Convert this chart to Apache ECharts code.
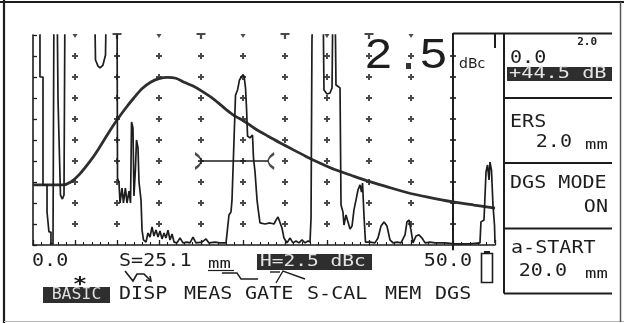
<!DOCTYPE html>
<html>
<head>
<meta charset="utf-8">
<script src="https://cdn.jsdelivr.net/npm/echarts@6/dist/echarts.min.js"></script>
<style>
  html, body { margin: 0; padding: 0; background: #ffffff; }
  #screen { width: 624px; height: 323px; }
</style>
</head>
<body>
<div id="screen"></div>
<script>
// ---- A-scan range and graticule (mm / % screen height) ----
const rangeMax = 55;
const gridColumns = [5, 10, 15, 20, 25, 30, 35, 40, 45, 50];
const gridRows = [10, 20, 30, 40, 50, 60, 70, 80, 90];
const topMarksT = [10, 20, 30, 40];
const topMarksSmall = [5, 15, 25, 35, 45];
const axisLabelValues = [0, 50];
const axisLabelTexts = ['0.0', '50.0'];

// ---- echo trace (mm, % FSH); 120 = driven past the top of the screen ----
const echoTrace = [
  [0, 120], [0.83, 120], [0.83, 80.0], [1.19, 80.0], [1.19, 28.6], [1.67, 28.6],
  [1.67, 15.7], [1.90, 15.7], [1.90, 6.2], [2.14, 6.2], [2.14, 0.5], [2.38, 0.5],
  [2.5, 120], [2.86, 120], [2.98, 69.0], [3.15, 69.0], [3.27, 23.8], [3.5, 21.9],
  [3.69, 23.8], [3.81, 120], [7.32, 120], [7.44, 88.1], [7.74, 85.2], [7.98, 84.3],
  [8.33, 85.7], [8.63, 90.5], [8.75, 120], [10.0, 120], [10.06, 31.9], [10.24, 29.5],
  [10.36, 20.0], [10.6, 27.1], [10.77, 20.0], [11.0, 27.1], [11.19, 20.0], [11.43, 25.7],
  [11.61, 20.0], [11.73, 58.6], [11.9, 55.7], [12.02, 23.3], [12.2, 36.7], [12.32, 50.0],
  [12.5, 46.2], [12.62, 30.0], [12.86, 21.4], [12.98, 7.1], [13.15, 2.4], [13.45, 1.4],
  [13.69, 5.7], [13.93, 3.8], [14.17, 8.6], [14.4, 4.3], [14.64, 7.1], [14.88, 3.8],
  [15.12, 6.7], [15.36, 2.9], [15.6, 5.7], [15.83, 3.3], [16.07, 7.1], [16.31, 2.4],
  [16.55, 5.2], [16.79, 1.4], [17.14, 1.0], [17.5, 3.3], [17.86, 1.0], [18.33, 1.4],
  [18.69, 1.0], [19.05, 3.8], [19.4, 1.0], [20.1, 1.4], [20.6, 2.9], [20.95, 1.0],
  [21.67, 1.4], [22.26, 1.0], [22.98, 1.0],
  // flaw echo in the gate
  [23.21, 1.4], [23.33, 14.3], [23.57, 15.7], [23.69, 21.4], [23.93, 50.0], [24.11, 71.4],
  [24.35, 73.8], [24.58, 78.6], [24.88, 80.5], [25.12, 80.5], [25.3, 74.8], [25.42, 65.2],
  [25.54, 51.9], [25.83, 51.0], [26.13, 52.4], [26.25, 41.4], [26.43, 34.8], [26.67, 21.4],
  [26.85, 15.7], [27.02, 10.5], [27.62, 10.0], [28.21, 10.5], [28.69, 10.0], [28.93, 11.9],
  [29.17, 13.3], [29.4, 12.4], [29.64, 8.1], [29.88, 3.3], [30.24, 1.0], [30.6, 3.3],
  [30.95, 1.0], [31.31, 1.9], [31.67, 1.0], [32.02, 2.4], [32.38, 1.0], [32.74, 1.9],
  // large reflector
  [32.98, 1.4], [33.1, 12.9], [33.21, 97.6], [33.39, 120], [34.52, 120], [34.64, 73.8],
  [35.0, 71.9], [35.36, 72.4], [35.6, 74.8], [35.71, 120], [35.95, 120], [36.07, 76.2],
  [36.55, 74.8], [36.67, 19.0], [36.9, 15.7], [37.02, 9.5], [37.26, 14.3], [37.5, 11.0],
  [37.74, 7.6], [37.98, 9.0], [38.21, 16.7], [38.45, 21.4], [38.69, 26.2], [38.93, 28.6],
  [39.11, 25.2], [39.23, 29.5], [39.4, 14.3], [39.58, 1.4], [40.12, 1.4], [40.71, 1.0],
  [41.07, 3.3], [41.43, 9.0], [41.79, 11.0], [42.14, 9.0], [42.5, 2.4], [42.86, 1.0],
  [43.33, 1.4], [43.81, 1.0], [44.29, 4.8], [44.52, 11.0], [44.76, 11.9], [45.0, 7.1],
  [45.24, 1.0], [45.6, 4.3], [45.95, 4.8], [46.31, 3.3], [46.67, 1.0], [47.26, 1.4],
  [47.86, 1.0], [49.05, 1.0], [50.24, 0.5], [52.02, 0.5], [53.21, 1.0], [53.33, 11.0],
  [53.69, 11.9], [53.93, 34.8], [54.11, 38.1], [54.29, 31.0], [54.4, 39.5], [54.58, 35.7],
  [54.76, 19.0], [54.94, 9.5], [55.0, 1.0]
];

// ---- DGS reference curve (mm, % FSH) ----
const dgsCurve = [
  [0, 28.6], [3.5, 28.6], [4.5, 30.0], [5.5, 33.5], [7, 41.0], [8, 47.0], [9, 53.5],
  [10, 59.5], [11, 65.0], [12, 70.0], [13, 74.5], [14, 77.5], [15, 79.2], [16, 79.8],
  [17, 79.4], [18, 77.5], [19, 75.8], [20, 73.5], [21.5, 69.5], [23, 64.5], [24, 61.5],
  [25, 59.3], [26.4, 55.5], [28, 51.8], [29.5, 48.5], [31, 45.3], [32.5, 42.2], [34, 39.3],
  [36, 35.8], [38, 33.0], [40, 30.3], [42, 27.9], [44.5, 25.0], [47, 22.8], [50, 20.5],
  [52.5, 19.0], [55, 17.6]
];

// ---- gate (a-START, end, threshold) ----
const gateStart = 20.0;
const gateEnd = 28.0;
const gateLevel = 40;

// ---- readouts ----
const bigReading = ['2', '5'];
const panelTexts = ['0.0', '+44.5 dB', 'ERS', '2.0', 'DGS MODE', 'ON', 'a-START', '20.0'];
const menuItems = ['BASIC', 'DISP', 'MEAS', 'GATE', 'S-CAL', 'MEM', 'DGS'];

const INK = '#1d1d1d';
const MONO = '"DejaVu Sans Mono", monospace';

const crossPts = [];
gridColumns.forEach(c => gridRows.forEach(r => crossPts.push([c, r])));

const chart = echarts.init(document.getElementById('screen'), null, { renderer: 'canvas' });

chart.setOption({
  animation: false,
  backgroundColor: '#ffffff',
  grid: { left: 33, top: 35, width: 462, height: 210, containLabel: false, outerBoundsMode: 'none' },
  xAxis: {
    type: 'value', min: 0, max: rangeMax, interval: 5,
    axisLine: { show: true, lineStyle: { color: INK, width: 1.6 } },
    axisTick: { show: true, inside: true, length: 5, lineStyle: { color: INK, width: 1.3 } },
    minorTick: { show: true, splitNumber: 5, length: 3, lineStyle: { color: INK, width: 1.1 } },
    axisLabel: { show: false },
    splitLine: { show: false }
  },
  yAxis: {
    type: 'value', min: 0, max: 100, interval: 10,
    axisLine: { show: true, lineStyle: { color: INK, width: 1.6 } },
    axisTick: { show: true, inside: true, length: 4, lineStyle: { color: INK, width: 1.3 } },
    axisLabel: { show: false },
    splitLine: { show: false }
  },
  series: [
    { // graticule crosses
      type: 'scatter', silent: true, data: crossPts,
      symbol: 'path://M2,0H4V2H6V4H4V6H2V4H0V2H2Z', symbolSize: 6,
      itemStyle: { color: INK }
    },
    { // top "T" marks
      type: 'scatter', silent: true, data: topMarksT.map(c => [c, 100]),
      symbol: 'path://M0,0H8V2H5V6H3V2H0Z', symbolSize: [9, 6], symbolOffset: [0, 1],
      itemStyle: { color: INK }
    },
    { // top small marks
      type: 'scatter', silent: true, data: topMarksSmall.map(c => [c, 100]),
      symbol: 'path://M0,0H5L2.5,4Z', symbolSize: [5, 4], symbolOffset: [0, 1],
      itemStyle: { color: INK }
    },
    { // 50 mm ruler
      type: 'line', silent: true, clip: false, symbol: 'none',
      data: [[50, -2.5], [50, 101]],
      lineStyle: { color: INK, width: 2 }
    },
    { // DGS curve
      type: 'line', silent: true, symbol: 'none', smooth: 0.3,
      data: dgsCurve,
      lineStyle: { color: '#2e2e2e', width: 2.8 }
    },
    { // echo trace
      type: 'line', silent: true, symbol: 'none', clip: true,
      data: echoTrace,
      lineStyle: { color: INK, width: 1.7 }
    },
    { // gate bar
      type: 'line', silent: true, symbol: 'none',
      data: [[gateStart, gateLevel], [gateEnd, gateLevel]],
      lineStyle: { color: INK, width: 1.7 }
    },
    { // gate start bracket
      type: 'scatter', silent: true, data: [[gateStart, gateLevel]],
      symbol: 'path://M0,0Q7,7,0,14', symbolSize: [6, 15], symbolOffset: [-3, 0],
      itemStyle: { color: 'rgba(0,0,0,0)', borderColor: INK, borderWidth: 2 }
    },
    { // gate end bracket
      type: 'scatter', silent: true, data: [[gateEnd, gateLevel]],
      symbol: 'path://M7,0Q0,7,7,14', symbolSize: [6, 15], symbolOffset: [3, 0],
      itemStyle: { color: 'rgba(0,0,0,0)', borderColor: INK, borderWidth: 2 }
    }
  ]
});

function txt(x, y, text, o) {
  o = o || {};
  return {
    type: 'text', x: x, y: y, scaleX: o.sx || 1.18, silent: true, z: 10,
    style: {
      text: text,
      font: o.font || ((o.weight || 'normal') + ' ' + (o.size || 17) + 'px ' + MONO),
      fill: o.fill || INK,
      align: o.align || 'left',
      verticalAlign: 'middle'
    }
  };
}
function rect(x, y, w, h, fill) {
  return { type: 'rect', silent: true, z: 9, shape: { x: x, y: y, width: w, height: h }, style: { fill: fill } };
}
function seg(x1, y1, x2, y2, w, c) {
  return { type: 'line', silent: true, z: 9, shape: { x1: x1, y1: y1, x2: x2, y2: y2 },
           style: { stroke: c || INK, lineWidth: w || 1.5 } };
}
function poly(points, w) {
  return { type: 'polyline', silent: true, z: 9, shape: { points: points },
           style: { stroke: INK, fill: null, lineWidth: w || 1.5 } };
}

const lx0 = chart.convertToPixel({ xAxisIndex: 0 }, axisLabelValues[0]);
const lx1 = chart.convertToPixel({ xAxisIndex: 0 }, axisLabelValues[1]);
const rulerX = chart.convertToPixel({ xAxisIndex: 0 }, 50);

const g = [
  // outer frame
  seg(0, 2, 624, 2, 2.2), seg(4, 0, 4, 323, 2.2),
  seg(4, 321.5, 624, 321.5, 1, '#b5b5b5'), seg(620.5, 2, 620.5, 322, 1.5, '#555'),
  // right panel
  seg(rulerX, 33.5, 612, 33.5, 2), seg(495, 33, 495, 48, 2),
  seg(504, 33, 504, 293.5, 2),
  seg(504, 98, 612, 98, 2), seg(504, 163, 612, 163, 2),
  seg(504, 228.5, 612, 228.5, 2), seg(504, 293.5, 612, 293.5, 2),
  // big gain-difference reading
  txt(365, 56, bigReading[0], { font: '42px "Liberation Sans", sans-serif', sx: 1.15 }),
  rect(406, 63, 5, 6, '#333'),
  txt(420, 56, bigReading[1], { font: '42px "Liberation Sans", sans-serif', sx: 1.15 }),
  txt(459, 64, 'dBc', { font: '14px "DejaVu Sans", sans-serif', sx: 1.0 }),
  // panel texts
  txt(597, 42, '2.0', { size: 10, weight: 'bold', align: 'right', sx: 1.1 }),
  txt(510, 59, panelTexts[0]),
  rect(507, 67, 105, 14, '#2e2e2e'),
  txt(509, 74.5, panelTexts[1], { size: 15, sx: 1.35, fill: '#e4e4e4' }),
  txt(510, 122.5, panelTexts[2]),
  txt(572, 142.5, panelTexts[3], { align: 'right' }),
  txt(585, 145, 'mm', { size: 14, sx: 1.35 }),
  txt(510, 184, panelTexts[4]),
  txt(608, 207.5, panelTexts[5], { align: 'right' }),
  txt(511, 248.5, panelTexts[6]),
  txt(567, 271.5, panelTexts[7], { align: 'right' }),
  txt(585, 274, 'mm', { size: 14, sx: 1.35 }),
  // axis readings under the baseline
  txt(lx0 - 1, 261.5, axisLabelTexts[0]),
  txt(lx1 + 19, 261.5, axisLabelTexts[1], { align: 'right' }),
  txt(119, 261.5, 'S=25.1'),
  txt(208, 264, 'mm', { size: 14, sx: 1.35 }),
  seg(208, 270.5, 234, 270.5, 1.2),
  rect(257, 254, 115, 16, '#2e2e2e'),
  txt(260, 262, 'H=2.5 dBc', { size: 15, sx: 1.3, fill: '#e4e4e4' }),
  // battery
  { type: 'rect', silent: true, z: 9, shape: { x: 481.5, y: 253.5, width: 11, height: 29 },
    style: { fill: null, stroke: INK, lineWidth: 1.6 } },
  rect(484, 251, 6, 3, INK),
  // pointers between readouts and menu
  txt(80, 285, '*', { size: 20, weight: 'bold', align: 'center', sx: 1.2 }),
  poly([[125, 271], [133, 281], [137, 274], [144, 274], [151, 281]], 1.6),
  poly([[146, 280], [151, 281], [150, 276]], 1.6),
  poly([[222, 273], [237, 273], [241, 279], [258, 279]], 1.4),
  poly([[270, 272], [280, 272]], 1.4),
  poly([[276, 283], [283, 271], [305, 279]], 1.4),
  // menu line
  rect(43, 287, 67, 16, '#2e2e2e'),
  txt(76.5, 295.5, menuItems[0], { size: 15, sx: 1.1, align: 'center', fill: '#dedede' }),
  txt(119, 295, menuItems[1]),
  txt(184, 295, menuItems[2]),
  txt(245, 295, menuItems[3]),
  txt(307, 295, menuItems[4]),
  txt(385, 295, menuItems[5]),
  txt(435, 295, menuItems[6])
];

chart.setOption({ graphic: g });
</script>
</body>
</html>
